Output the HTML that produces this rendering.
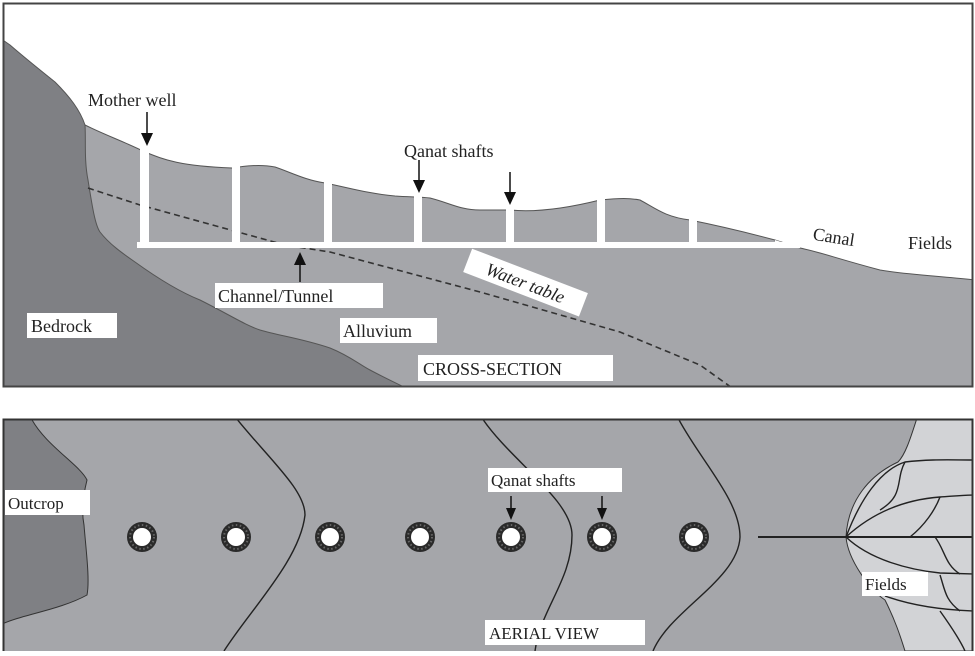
<!DOCTYPE html>
<html><head><meta charset="utf-8"><style>
html,body{margin:0;padding:0;background:#fff;}
svg text{font-family:"Liberation Serif",serif;fill:#222;}
</style></head><body>
<svg width="975" height="651" viewBox="0 0 975 651" xmlns="http://www.w3.org/2000/svg">
<rect x="0" y="0" width="975" height="651" fill="#fff"/>
<!-- TOP PANEL -->
<g>
<clipPath id="c1"><rect x="4" y="4" width="968" height="382"/></clipPath>
<g clip-path="url(#c1)">
<path d="M85,125 C105,135 125,142 145,152 C165,160 180,166 232,168 C245,166 260,164 275,167 C290,172 305,180 325,183 C350,188 365,193 395,196 C410,197 420,197 430,198 C450,203 460,210 480,210 L510,210 C530,212 560,210 600,200 C620,198 630,198 640,200 C655,208 665,217 690,220 C720,226 745,232 775,240 L800,248 C820,252 835,258 880,270 C910,275 940,276 975,280 L975,390 L0,390 Z" fill="#a5a6aa" stroke="#555" stroke-width="1"/>
<path d="M0,38 L10,45 C25,58 40,70 55,82 C70,97 80,110 85,125 C86,140 84,160 88,180 C92,205 95,225 100,232 C110,245 125,255 135,262 C160,280 180,292 200,300 C230,315 245,325 260,330 C280,336 300,338 330,348 C350,356 360,365 370,370 C385,378 400,385 410,390 L0,390 Z" fill="#7f8084" stroke="#555" stroke-width="1"/>
<path d="M88,188 L140,205 L285,245 L330,252 L480,292 L620,332 L700,365 L735,390" fill="none" stroke="#333" stroke-width="1.6" stroke-dasharray="6,4"/>
<g fill="#fff">
<rect x="137" y="242" width="663" height="6"/>
<rect x="140" y="148" width="9" height="96"/>
<rect x="232" y="160" width="8" height="84"/>
<rect x="324" y="170" width="8" height="74"/>
<rect x="414" y="185" width="8" height="59"/>
<rect x="506" y="200" width="8" height="44"/>
<rect x="597" y="190" width="8" height="54"/>
<rect x="689" y="210" width="8" height="34"/>
<polygon points="775,240 775,248 800,248"/>
</g>
</g>
<rect x="3.5" y="3.5" width="969" height="383" fill="none" stroke="#444" stroke-width="2"/>
<text x="88" y="106" font-size="18">Mother well</text>
<line x1="147" y1="112" x2="147" y2="135" stroke="#111" stroke-width="1.5"/><polygon points="141,133 153,133 147,146" fill="#111"/>
<text x="404" y="157" font-size="18">Qanat shafts</text>
<line x1="419" y1="160" x2="419" y2="182" stroke="#111" stroke-width="1.5"/><polygon points="413,180 425,180 419,193" fill="#111"/>
<line x1="510" y1="172" x2="510" y2="194" stroke="#111" stroke-width="1.5"/><polygon points="504,192 516,192 510,205" fill="#111"/>
<rect x="215" y="283" width="168" height="25" fill="#fff"/>
<text x="218" y="302" font-size="18">Channel/Tunnel</text>
<line x1="300" y1="282" x2="300" y2="263" stroke="#111" stroke-width="1.5"/><polygon points="294,265 306,265 300,252" fill="#111"/>
<rect x="27" y="313" width="90" height="25" fill="#fff"/>
<text x="31" y="332" font-size="18">Bedrock</text>
<rect x="340" y="318" width="97" height="25" fill="#fff"/>
<text x="343" y="337" font-size="18">Alluvium</text>
<rect x="418" y="355" width="195" height="26" fill="#fff"/>
<text x="423" y="375" font-size="18">CROSS-SECTION</text>
<g transform="translate(525,284) rotate(21)">
<rect x="-62" y="-14" width="124" height="25" fill="#fff"/>
<text x="0" y="5" font-size="18" font-style="italic" text-anchor="middle">Water table</text>
</g>
<text x="812" y="244" font-size="18" transform="rotate(9 840 243)">Canal</text>
<text x="908" y="249" font-size="18">Fields</text>
</g>
<!-- BOTTOM PANEL -->
<g>
<clipPath id="c2"><rect x="4" y="420" width="968" height="231"/></clipPath>
<g clip-path="url(#c2)">
<rect x="0" y="418" width="975" height="233" fill="#a5a6aa"/>
<path d="M0,418 L31,418 C45,445 80,465 87,480 C82,500 82,515 84,525 C86,550 90,580 87,595 C60,610 20,615 0,625 Z" fill="#7f8084" stroke="#333" stroke-width="1"/>
<path d="M917,418 C910,440 905,455 898,462 C870,475 848,500 846,537 C848,560 870,590 885,600 C895,620 900,635 905,651 L975,651 L975,418 Z" fill="#d2d3d6" stroke="#333" stroke-width="1"/>
<g fill="none" stroke="#222" stroke-width="1.4">
<path d="M236,418 C270,460 305,490 305,515 C300,560 250,610 224,651"/>
<path d="M482,418 C510,460 572,500 572,535 C572,580 540,610 535,651"/>
<path d="M678,418 C700,460 740,500 740,537 C738,580 670,610 653,651"/>
<line x1="758" y1="537" x2="975" y2="537" stroke-width="2"/>
<path d="M846,537 C860,500 880,470 905,462 C930,459 950,460 975,460"/>
<path d="M905,462 C895,480 905,495 880,510"/>
<path d="M846,537 C870,515 900,500 940,497 C955,496 965,495 975,495"/>
<path d="M940,497 C935,510 925,525 910,537"/>
<path d="M846,537 C870,560 910,570 940,573 L975,574"/>
<path d="M935,537 C945,550 945,565 960,574"/>
<path d="M885,596 C910,605 940,610 975,611"/>
<path d="M940,575 C945,590 945,600 960,611"/>
<path d="M940,611 C950,625 960,640 965,651"/>
</g>
<g fill="#fff" stroke="#2a2a2a" stroke-width="6">
<circle cx="142" cy="537" r="12"/>
<circle cx="236" cy="537" r="12"/>
<circle cx="330" cy="537" r="12"/>
<circle cx="420" cy="537" r="12"/>
<circle cx="511" cy="537" r="12"/>
<circle cx="602" cy="537" r="12"/>
<circle cx="694" cy="537" r="12"/>
</g>
<g fill="none" stroke="#666" stroke-width="2" stroke-dasharray="1.5,2.5">
<circle cx="142" cy="537" r="12"/>
<circle cx="236" cy="537" r="12"/>
<circle cx="330" cy="537" r="12"/>
<circle cx="420" cy="537" r="12"/>
<circle cx="511" cy="537" r="12"/>
<circle cx="602" cy="537" r="12"/>
<circle cx="694" cy="537" r="12"/>
</g>
</g>
<path d="M3.5,651 L3.5,419.5 L972.5,419.5 L972.5,651" fill="none" stroke="#333" stroke-width="2"/>
<rect x="5" y="490" width="85" height="25" fill="#fff"/>
<text x="8" y="509" font-size="17">Outcrop</text>
<rect x="488" y="468" width="134" height="24" fill="#fff"/>
<text x="491" y="486" font-size="17">Qanat shafts</text>
<line x1="511" y1="496" x2="511" y2="510" stroke="#111" stroke-width="1.5"/><polygon points="506,508 516,508 511,520" fill="#111"/>
<line x1="602" y1="496" x2="602" y2="510" stroke="#111" stroke-width="1.5"/><polygon points="597,508 607,508 602,520" fill="#111"/>
<rect x="862" y="572" width="66" height="24" fill="#fff"/>
<text x="865" y="590" font-size="17">Fields</text>
<rect x="485" y="620" width="160" height="25" fill="#fff"/>
<text x="489" y="639" font-size="17">AERIAL VIEW</text>
</g>
</svg>
</body></html>
